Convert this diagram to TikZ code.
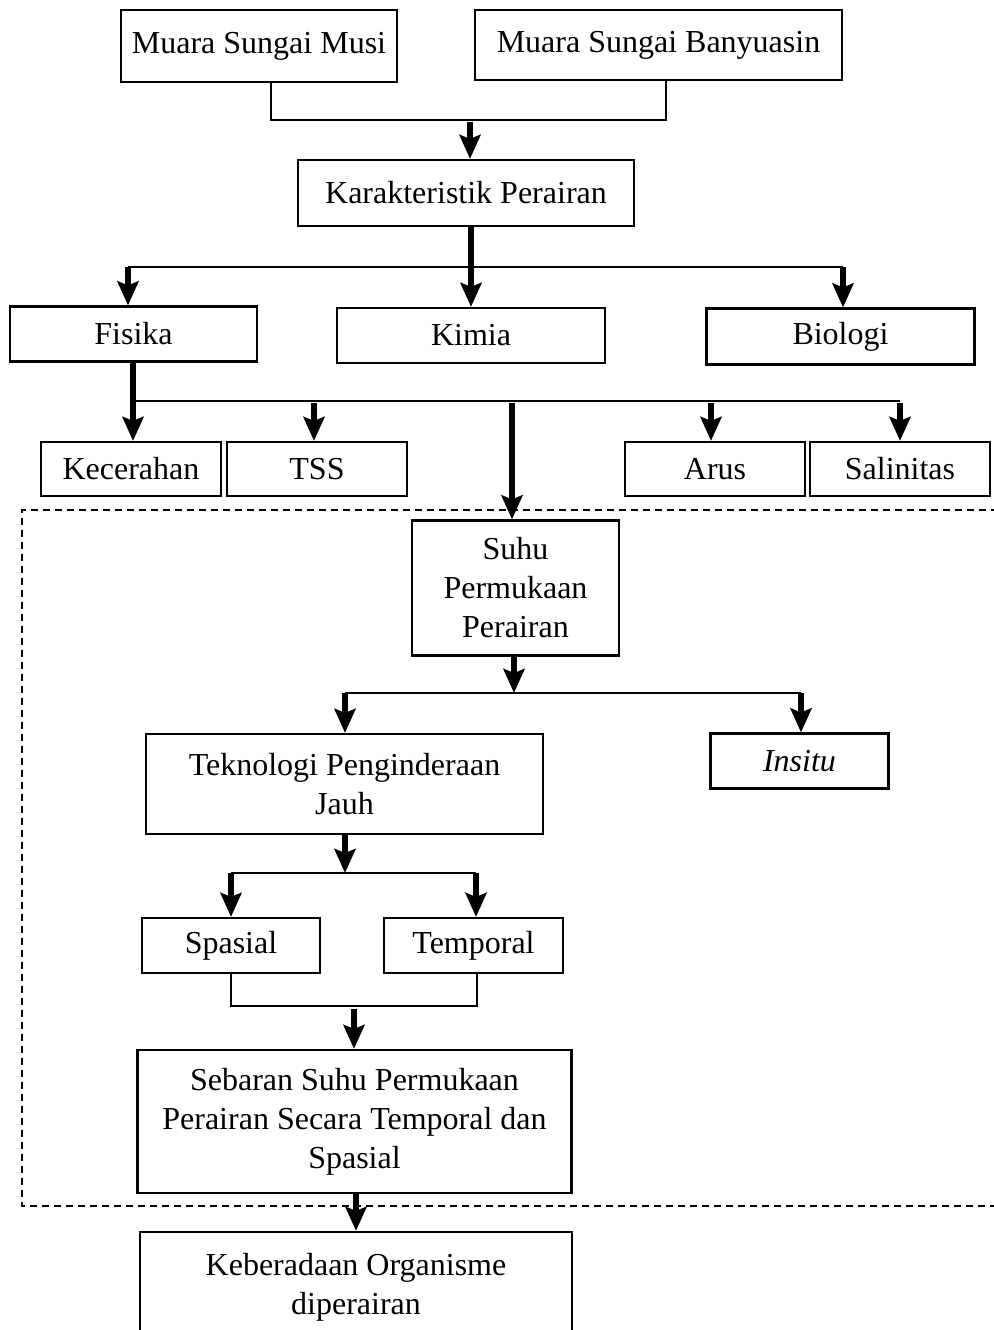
\documentclass[tikz,border=0pt]{standalone}
\usepackage{fontspec}
\setmainfont{Liberation Serif}
\usetikzlibrary{arrows.meta}
\tikzset{
  box/.style={draw, line width=2.2pt, inner sep=0pt, align=center, font=\fontsize{32}{39}\selectfont},
  conn/.style={line width=1.8pt},
  arr/.style={line width=6.5pt, -{Stealth[length=24pt,width=21pt,inset=4pt]}},
  dashbox/.style={line width=1.5pt, dash pattern=on 7pt off 5pt},
}
\begin{document}
\begin{tikzpicture}[x=1pt,y=-1pt]
\useasboundingbox (0,0) rectangle (993,1330);
% dashed frame
\draw[dashbox] (1010,510) -- (22,510) -- (22,1206) -- (1010,1206);
% nodes
\node[box, minimum width=276pt, minimum height=72pt] (musi) at (259,46) {Muara Sungai Musi};
\node[box, minimum width=367pt, minimum height=70pt] (bany) at (658.5,45) {Muara Sungai Banyuasin};
\node[box, minimum width=336pt, minimum height=66pt] (kar) at (466,193) {Karakteristik Perairan};
\node[box, minimum width=247pt, minimum height=55pt] (fis) at (133.5,334) {Fisika};
\node[box, minimum width=268pt, minimum height=55pt] (kim) at (471,335.5) {Kimia};
\node[box, minimum width=268pt, minimum height=56pt] (bio) at (840.5,336.5) {Biologi};
\node[box, minimum width=180pt, minimum height=54pt] (kec) at (131,469) {Kecerahan};
\node[box, minimum width=180pt, minimum height=54pt] (tss) at (317,469) {TSS};
\node[box, minimum width=180pt, minimum height=54pt] (aru) at (715,469) {Arus};
\node[box, minimum width=180pt, minimum height=54pt] (sal) at (900,469) {Salinitas};
\node[box, minimum width=207pt, minimum height=135pt] (suhu) at (515.5,588) {Suhu\\Permukaan\\Perairan};
\node[box, minimum width=397pt, minimum height=100pt] (tek) at (344.5,784) {Teknologi Penginderaan\\Jauh};
\node[box, minimum width=178pt, minimum height=55pt] (ins) at (799.5,761) {\itshape Insitu};
\node[box, minimum width=178pt, minimum height=55pt] (spa) at (231,945.5) {Spasial};
\node[box, minimum width=179pt, minimum height=55pt] (tem) at (473.5,945.5) {Temporal};
\node[box, minimum width=434pt, minimum height=143pt] (seb) at (354.5,1121.5) {Sebaran Suhu Permukaan\\Perairan Secara Temporal dan\\Spasial};
\node[box, minimum width=432pt, minimum height=110pt] (keb) at (356,1287) {Keberadaan Organisme\\diperairan};
% junction coordinates
\coordinate (m1) at (271,120);
\coordinate (b1) at (666,120);
\coordinate (j1) at (470,122);
\coordinate (h1l) at (128,267);
\coordinate (h1r) at (843,267);
\coordinate (h2l) at (133,401);
\coordinate (h2r) at (900,401);
\coordinate (jt) at (314,403);
\coordinate (jm) at (512,403);
\coordinate (ja) at (711,403);
\coordinate (js) at (900,403);
\coordinate (h3m) at (514,693);
\coordinate (h3l) at (345,693);
\coordinate (h3r) at (801,693);
\coordinate (h4m) at (345,873);
\coordinate (h4l) at (231,873);
\coordinate (h4r) at (476,873);
\coordinate (h5l) at (231,1006);
\coordinate (h5r) at (477,1006);
\coordinate (j5) at (354,1009);
% connectors
\draw[conn] (musi.south -| m1) -- (m1) -- (b1) -- (bany.south -| b1);
\draw[arr] (j1) -- (kar.north -| j1);
\draw[arr] (kar.south -| kim.north) -- (kim.north);
\draw[conn] (h1l) -- (h1r);
\draw[arr] (h1l) -- (fis.north -| h1l);
\draw[arr] (h1r) -- (bio.north -| h1r);
\draw[arr] (fis.south -| h2l) -- (kec.north -| h2l);
\draw[conn] (h2l) -- (h2r);
\draw[arr] (jt) -- (tss.north -| jt);
\draw[arr] (jm) -- (suhu.north -| jm);
\draw[arr] (ja) -- (aru.north -| ja);
\draw[arr] (js) -- (sal.north -| js);
\draw[arr] (suhu.south -| h3m) -- (h3m);
\draw[conn] (h3l) -- (h3r);
\draw[arr] (h3l) -- (tek.north -| h3l);
\draw[arr] (h3r) -- (ins.north -| h3r);
\draw[arr] (tek.south -| h4m) -- (h4m);
\draw[conn] (h4l) -- (h4r);
\draw[arr] (h4l) -- (spa.north -| h4l);
\draw[arr] (h4r) -- (tem.north -| h4r);
\draw[conn] (spa.south -| h5l) -- (h5l) -- (h5r) -- (tem.south -| h5r);
\draw[arr] (j5) -- (seb.north -| j5);
\draw[arr] (seb.south -| keb.north) -- (keb.north);
\end{tikzpicture}
\end{document}
